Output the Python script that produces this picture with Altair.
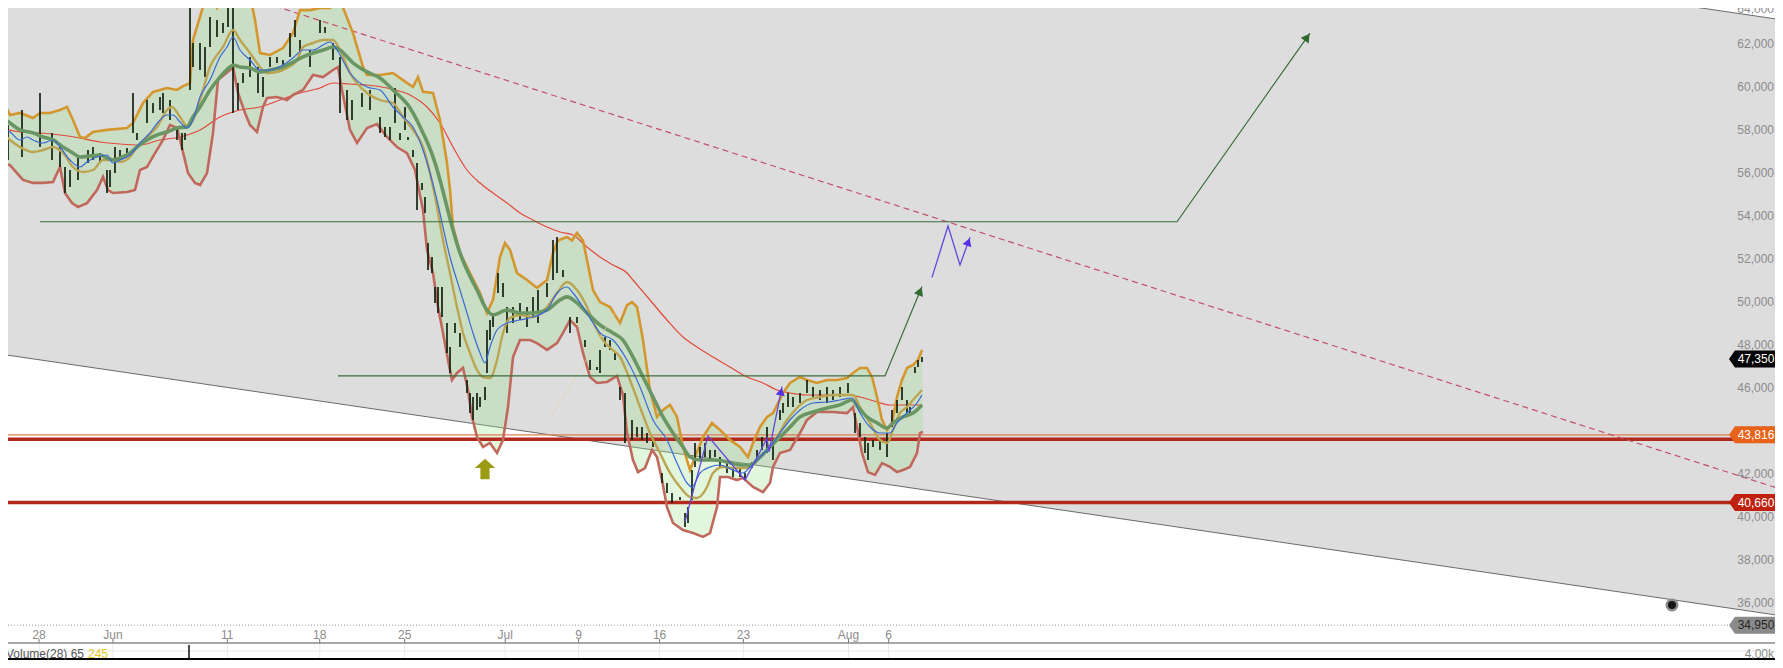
import math
import altair as alt
import pandas as pd

# ---------------- data (t = session index, p = price) ----------------
DATE_T = [3.9, 11.3, 22.73, 31.97, 40.47, 50.52, 57.86, 65.96, 74.34, 84.85, 88.87]
DATE_LABELS = ["28", "Jun", "11", "18", "25", "Jul", "9", "16", "23", "Aug", "6"]
PRICE_TICKS = [36000, 38000, 40000, 42000, 44000, 46000, 48000, 50000, 52000,
               54000, 56000, 58000, 60000, 62000]
TOP_TICK = 64000

UPPER_BAND = [[0,59650],[1,58710],[2,58810],[3.3,58570],[4,58810],[5,58810],[6,58950],[6.7,59090],[7.3,58480],[8,57690],[8.5,57640],[9.3,57920],[10.7,58020],[12.7,58110],[13.3,58340],[14.3,59270],[15.3,59790],[16.7,59970],[17.7,59880],[18.3,60060],[19,60200],[19.3,62210],[20,63280],[20.5,64070],[21,64300],[21.7,63700],[22.5,64300],[23.3,64300],[25,64300],[25.5,63140],[26,61600],[27,61510],[28.3,61830],[29.3,62530],[30,63600],[31,63600],[32,63700],[33,63700],[34,64070],[35.3,62530],[36.3,60950],[36.7,60580],[38,60580],[39.3,60670],[40.3,60340],[41.3,60020],[41.8,60480],[42.3,59790],[43.3,59740],[44,58480],[44.7,56480],[45,55220],[45.3,53500],[46,52290],[47,51350],[48,50420],[48.7,49490],[49.3,50100],[50,52100],[50.5,52750],[51,52430],[51.7,51350],[52.7,51030],[53.7,50660],[54.7,51030],[55.3,52290],[55.8,52870],[56.7,53030],[57.2,52870],[57.7,53220],[58.3,52870],[58.7,51960],[59.3,50560],[60,50000],[61,49770],[62,49030],[62.7,49860],[63.2,50000],[63.7,49770],[64.3,48230],[65,45900],[65.7,44650],[66.3,44970],[67,45210],[67.7,44650],[68.3,43250],[69,42180],[69.5,42780],[70.3,43710],[71.2,44370],[72,44040],[73,43580],[74,43250],[74.8,42780],[75.3,43440],[76,44180],[76.7,44650],[77.3,44830],[78.3,45760],[79,46230],[80,46510],[80.7,46370],[81.7,46230],[82.7,46370],[83.7,46370],[84.7,46460],[85.3,46700],[86,46930],[86.7,46930],[87.2,46510],[87.7,45580],[88.2,44510],[88.7,44040],[89.2,44370],[89.7,45580],[90.2,46370],[90.7,46930],[91.3,47070],[91.8,47300],[92.2,47770]]

LOWER_BAND = [[0,56480],[1,56380],[1.7,56010],[2.3,55690],[3.3,55550],[4.3,55550],[5.3,55590],[6,56290],[6.5,55080],[7.2,54610],[7.8,54430],[8.7,54610],[9.7,55220],[10.3,55830],[10.8,55220],[11.3,55080],[12.7,55130],[13.5,55220],[14,56150],[14.7,56290],[15.5,56940],[16.3,57550],[17,58250],[17.7,58110],[18.2,57180],[18.8,56010],[19.5,55550],[20,55450],[20.7,56010],[21.3,57880],[21.8,60340],[23,60810],[23.3,60950],[23.8,59740],[24.5,58810],[25,58250],[25.7,57920],[26.3,59090],[26.7,59510],[27.7,59550],[28.7,59410],[29.3,59650],[30.3,59880],[31.3,60580],[32.3,60480],[33.3,60810],[33.8,60950],[34.2,59880],[35,58020],[35.7,57410],[36.7,58110],[37.7,58290],[38.7,57690],[39.7,57220],[40.7,56940],[41.5,56150],[42.3,54290],[42.7,52430],[43.3,51350],[43.8,49770],[44.3,48560],[44.8,47300],[45.2,46370],[45.7,46700],[46.3,46930],[46.8,45900],[47.2,44650],[47.7,43710],[48.3,43250],[49,43440],[49.7,42970],[50.3,43580],[50.8,45110],[51.3,47440],[52,48230],[53,48230],[53.7,48090],[54.7,47770],[55.7,48090],[56.3,48560],[57,49160],[57.7,48840],[58.3,47630],[59,46510],[59.7,46230],[60.7,46280],[61.7,46560],[62.3,45670],[62.7,43900],[63.3,42640],[63.8,42080],[64.5,42270],[65.2,43110],[65.7,42780],[66.2,41710],[66.7,40450],[67.3,39710],[68.3,39380],[69.3,39240],[70.3,39060],[71,39240],[71.7,40450],[72,41850],[72.8,41850],[73.7,41710],[74.3,41810],[75.3,41390],[76.3,41150],[77,41570],[77.3,42320],[78,42970],[79,43110],[80,43900],[80.7,44510],[81.7,44880],[83.3,44880],[84.7,44830],[85.3,45110],[85.7,44180],[86.2,42970],[86.8,42080],[87.5,41950],[88.2,42500],[89,42320],[89.7,42080],[90.3,42180],[91,42320],[91.7,42970],[92,43900],[92.3,43950]]

GREEN_MA = [[0,58710],[1,58340],[2,58020],[3.3,57880],[4.3,57690],[5.3,57550],[6.3,57220],[7.3,56940],[8,56760],[9,56800],[10,56850],[10.7,56710],[11.3,56620],[12,56710],[13,56940],[13.7,57220],[14.7,57550],[15.7,57780],[16.7,57920],[17.7,58110],[18.7,58160],[19.3,58620],[20,59090],[21,59880],[22,60480],[23,60950],[23.3,61040],[24,60950],[25,60900],[26,60720],[27,60810],[28.3,60950],[29.3,61180],[30.3,61420],[31.3,61600],[32.3,61740],[33.3,61880],[34,61740],[35.3,61140],[36.7,60720],[38,60440],[39.3,59880],[41,59040],[42.3,57880],[43.3,56760],[44,55690],[44.7,54430],[45.3,53360],[46,52290],[46.7,51490],[47.7,50560],[48.7,49630],[49.3,49400],[50.7,49630],[52,49490],[53.3,49490],[54.7,49630],[56,50100],[56.7,50240],[57.7,49960],[58.7,49490],[60,48930],[61.3,48560],[62.3,48230],[63.3,47440],[64.3,46510],[65.3,45580],[66.3,44650],[67.3,43900],[68.3,43250],[69,42780],[70,42640],[71.3,42640],[72.7,42550],[74,42410],[75,42410],[76,42780],[77,43250],[78,43710],[79,44180],[80,44650],[81.3,44880],[82.7,45070],[84,45210],[85.2,45440],[85.8,45110],[86.7,44650],[87.7,44370],[88.7,44130],[89.3,44370],[90.3,44650],[91.3,44830],[92.2,45210]]

TAN_MA = [[0,58015],[1,57549],[2,57223],[3.3,56990],[4.3,57083],[5.3,57223],[6.3,56943],[7.3,56291],[8.3,56058],[9.3,56151],[10.3,56617],[11.3,56617],[12,56524],[13,56757],[13.7,57223],[14.7,57688],[15.7,58155],[16.7,58946],[17.2,59086],[18,58620],[18.8,58155],[19.3,58480],[20,59412],[21,60949],[22.3,61881],[23.3,62673],[24,62207],[25,61601],[26,60949],[26.7,60670],[27.7,60716],[28.7,60903],[29.7,61275],[30.3,61881],[31.3,62067],[32.3,62207],[33.3,62207],[34,61741],[35,60670],[36.7,59738],[38,59412],[39.3,59272],[40.3,58620],[41.3,58015],[42.3,57223],[43,56012],[43.7,54428],[44.3,52891],[45,51354],[45.7,49770],[46.3,48559],[47,47627],[47.7,46835],[48.3,46509],[49,46463],[49.7,47301],[50.3,48559],[51,49257],[52,49397],[53.3,49304],[54.7,49770],[55.7,50422],[56.7,50934],[57.7,50562],[58.7,49770],[59.5,48900],[60.5,48100],[61.2,47800],[62,47441],[63,46370],[64,45112],[65,43901],[66,42969],[67,42038],[68,41386],[69,40920],[69.7,40873],[70.7,41386],[71.3,42038],[72.3,42317],[73.3,42270],[74.7,42270],[75.7,42643],[76.7,43109],[77.7,43714],[78.7,44507],[79.7,45066],[80.7,45438],[82,45578],[83.3,45671],[84.7,45671],[85.3,45671],[86,45112],[87,44367],[88,43575],[88.7,43435],[89.3,44041],[90,44833],[90.7,45112],[91.3,45438],[92.2,45904]]

BLUE_MA = [[0,58155],[1,57921],[2,57549],[2.7,57688],[3.3,57549],[4.3,57409],[5.3,57549],[6,57223],[7,56617],[8,56291],[8.7,56524],[9.7,56757],[10.7,56850],[11.3,56478],[12,56617],[13,56850],[14,57409],[15,57875],[16,58480],[16.7,58713],[17.3,58713],[18,58387],[18.7,58108],[19.3,58480],[20,59552],[21,60344],[22,61415],[22.7,61881],[23.3,62347],[24,61741],[25,61275],[26,60809],[27,60809],[28.3,61042],[29.3,61368],[30.3,61741],[31.3,61741],[32.3,61974],[33,62114],[33.7,61741],[35,60670],[36.7,60017],[38,59878],[39.3,59086],[40.3,58620],[41.3,58155],[42.3,57083],[43,56012],[43.7,54754],[44.3,53497],[45,52099],[46,50562],[46.7,49490],[47.3,48559],[48,47627],[48.5,47161],[49,47907],[49.7,48698],[50.7,49025],[52,49164],[53.3,49304],[54.7,49630],[55.7,50422],[56.7,50701],[57.3,50422],[58.3,49770],[59.3,49025],[60,48559],[61.3,48233],[62.7,47301],[64,46044],[65.3,44507],[66.7,43575],[67.7,42503],[68.7,41572],[69.2,41386],[70,42038],[71,42317],[72,42410],[73.3,42177],[74.3,42038],[75,42317],[76,42783],[77,43249],[78,43901],[79,44507],[80,44972],[81.3,45298],[82.7,45345],[84,45438],[85.2,45531],[86,44833],[87,44180],[88,43901],[89,43901],[89.7,44367],[90.7,44833],[91.7,45298],[92.2,45671]]

RED_MA = [[0,58108],[2,57921],[4,57875],[6,57782],[8,57642],[10,57456],[12,57362],[14,57316],[16,57549],[18,57688],[20,58015],[22,58620],[24,58946],[26,59086],[28,59412],[30,59738],[32,59971],[33.3,60204],[35,60157],[36.7,60111],[38.7,59971],[41,59645],[42.7,59086],[44,58341],[45.3,57223],[46.7,56151],[48,55546],[49.3,55080],[50.7,54614],[52,54148],[53.3,53822],[54.7,53496],[56,53263],[57.3,53124],[58.7,52565],[60,52099],[61.3,51726],[62.7,51354],[63.3,51028],[65,50096],[66.7,49164],[68.3,48373],[69.7,47907],[71.3,47441],[73,46975],[74.7,46509],[76.3,46230],[77.7,45904],[79,45764],[80.7,45671],[82.7,45671],[84.7,45671],[86,45578],[87.7,45345],[89,45205],[90.7,45205],[92.2,45205]]

# candles: [t, high, low]
CANDLES = [[0.2,59270,57080],[0.5,58020,56850],[0.8,58250,56620],[2.2,58950,56760],[4.0,59740,57220],[5.2,57880,56620],[6.0,57410,56290],[6.5,56290,55080],[7.0,56150,55360],[7.8,56760,55690],[8.8,57080,56480],[9.3,57220,56620],[10.0,56940,56480],[10.7,56150,55080],[11.0,56150,55360],[11.5,57220,56010],[12.0,57080,56760],[12.7,57180,56850],[13.3,59740,57880],[13.7,57880,57550],[14.7,59410,58340],[15.3,59270,58810],[16.0,59550,58950],[16.3,59740,58810],[17.0,59410,58480],[17.7,58160,57550],[18.2,57880,57080],[18.5,57880,57550],[19.0,64070,59880],[19.3,62070,60950],[20.0,62070,60810],[20.5,61880,60480],[21.0,63280,61880],[21.7,63140,62350],[22.3,63000,62530],[22.8,64070,62810],[23.3,64070,58810],[23.8,60200,58950],[24.3,60670,60200],[25.0,61420,60480],[25.8,60950,59740],[26.3,60480,59550],[27.0,61420,60950],[27.7,61420,61140],[28.3,61280,60950],[29.0,62530,61420],[29.5,63140,62350],[30.0,62210,61600],[31.0,61740,60950],[32.0,63140,62530],[32.5,62810,62530],[33.3,62070,61280],[34.0,61420,58810],[34.7,59880,58480],[35.2,59410,58480],[36.2,59740,59090],[37.0,59880,58950],[38.0,58620,57880],[38.5,58160,57690],[39.0,58160,57550],[39.5,59970,58340],[40.0,57880,57550],[40.5,59090,58020],[40.8,57690,57550],[41.3,57080,56760],[41.7,56480,54290],[42.2,55550,55220],[42.5,54890,54150],[42.8,52750,51490],[43.2,52100,51350],[43.5,50700,49960],[43.8,50700,49490],[44.2,50700,49300],[44.7,49030,47630],[45.0,47910,46700],[45.5,49030,48560],[46.0,48560,47910],[46.7,46370,45760],[47.0,45760,44830],[47.3,45580,44510],[47.7,45760,44970],[48.0,45580,45110],[48.5,46040,45440],[48.7,48700,46700],[49.0,49160,48230],[49.3,49490,48840],[49.8,51350,50420],[50.3,50890,50240],[50.7,49770,48560],[51.3,49770,49030],[52.0,49960,49160],[52.7,49770,48840],[53.3,50240,49300],[53.8,50560,49030],[54.7,50890,50240],[55.3,52890,51030],[55.7,53030,51350],[56.3,51490,51170],[57.0,49300,48560],[57.7,49300,49030],[58.5,48230,47910],[59.0,47300,46840],[59.7,46980,46840],[60.0,47770,46700],[60.5,48370,47910],[61.0,48230,47770],[61.5,47630,47300],[62.0,46040,45440],[62.5,45760,43440],[63.2,44510,43580],[63.7,44180,43710],[64.2,44180,43580],[64.7,43900,43440],[65.3,43710,43250],[66.2,42040,41570],[66.7,41570,41110],[67.2,41110,40640],[68.0,40920,40780],[68.5,40170,39520],[68.8,40450,39710],[69.2,42180,40780],[69.5,43440,42320],[70.0,43250,42640],[70.5,43440,42780],[71.0,43110,42640],[71.5,43110,42780],[72.0,42780,42320],[72.7,42640,42040],[73.3,42320,41850],[74.0,42320,41850],[74.5,42040,41710],[75.2,42550,42270],[75.7,43110,42640],[76.2,43710,43110],[76.7,44180,42970],[77.3,43580,42640],[78.0,44970,44510],[78.3,45300,44830],[78.8,45760,45110],[79.3,45580,45110],[80.0,45760,45300],[80.7,46370,45760],[81.3,46040,45580],[82.0,45900,45440],[82.7,46040,45300],[83.3,45900,45440],[84.0,46040,45580],[84.8,46230,45760],[85.5,44830,43900],[86.0,44370,43710],[86.5,43710,42970],[86.8,43440,42640],[87.3,43580,43250],[88.0,43580,43110],[88.7,43900,42780],[89.2,44970,44180],[89.7,45440,44830],[90.2,46040,45440],[90.7,45440,44830],[91.0,45110,44830],[91.5,46980,46700],[91.8,47300,46980],[92.2,47440,47210]]

# descending channel (grey zone): t, lower edge, upper edge
CHANNEL_T = [0.0, 178.3]
CHANNEL_LOWER = [47580, 35377]
CHANNEL_UPPER = [75341, 63138]

DASH_LINE = [[25.6, 64070], [178.3, 41250]]
TARGET_HIGH = [[4.0, 53740], [117.7, 53740], [131.0, 62530]]
TARGET_LOW = [[33.8, 46560], [88.5, 46560], [92.2, 50720]]
WAVE_LOW = [[68.5, 39770], [70.8, 43760], [74.5, 41710], [76.7, 43650], [76.9, 43020], [78.2, 46060]]
WAVE_HIGH = [[93.2, 51150], [94.8, 53540], [96.0, 51730], [97.0, 53020]]
FAINT_LINE = [[55.0, 44600], [61.7, 49630]]
UP_MARKER = [48.5, 42220]
DOT = [167.2, 35890]
LEVELS_THIN = [43816]
LEVELS_THICK = [43610, 40660]
DOTTED_LEVEL = 34950
TAGS = [["47,350", 47350, "#050505", "#ffffff"],
        ["43,816", 43816, "#e8621a", "#ffffff"],
        ["40,660", 40660, "#c0200e", "#ffffff"],
        ["34,950", 34950, "#8a8a8a", "#262626"]]
VOLUME_TEXT = "Volume(28) 65"
VOLUME_VALUE = "245"
VOLUME_AXIS = "4,00k"
VOLUME_BAR_T = 18.9

# ---------------- chart ----------------
W, H = 1767, 652
T_DOMAIN = [0.8, 177.5]
P_DOMAIN = [33327.2, 63697.4]
PX_T = W / (T_DOMAIN[1] - T_DOMAIN[0])
PX_P = H / (P_DOMAIN[1] - P_DOMAIN[0])
FONT = "Liberation Sans"

xs = alt.Scale(domain=T_DOMAIN, nice=False, zero=False)
ys = alt.Scale(domain=P_DOMAIN, nice=False, zero=False)
X = alt.X("t:Q", scale=xs, axis=None)
Y = alt.Y("p:Q", scale=ys, axis=None)


def df_pairs(pairs):
    return pd.DataFrame(pairs, columns=["t", "p"])


def line(pairs, color, width, interp="monotone", **kw):
    return alt.Chart(df_pairs(pairs)).mark_line(
        color=color, strokeWidth=width, clip=True, interpolate=interp, **kw
    ).encode(x=X, y=Y)


def arrow_head(path, back=5.0):
    (t0, p0), (t1, p1) = path[-2], path[-1]
    dx = (t1 - t0) * PX_T
    dy = (p1 - p0) * PX_P
    L = math.hypot(dx, dy)
    ang = math.degrees(math.atan2(dx, dy)) % 360
    return {"t": t1 - dx / L * back / PX_T, "p": p1 - dy / L * back / PX_P, "a": ang}


def heads(paths, color, size):
    d = pd.DataFrame([arrow_head(p) for p in paths])
    return alt.Chart(d).mark_point(
        shape="triangle-up", filled=True, color=color, size=size, opacity=1, clip=True
    ).encode(x=X, y=Y, angle=alt.Angle("a:Q", scale=None))


one = pd.DataFrame({"k": [0]})
layers = []

# grey channel
chan = pd.DataFrame({"t": CHANNEL_T, "lo": CHANNEL_LOWER, "hi": CHANNEL_UPPER})
layers.append(alt.Chart(chan).mark_area(color="#dddddd", clip=True).encode(
    x=X, y=alt.Y("lo:Q", scale=ys, axis=None), y2=alt.Y2("hi:Q")))
layers.append(alt.Chart(chan).mark_line(color="#6a6a6a", strokeWidth=1, clip=True).encode(
    x=X, y=alt.Y("lo:Q", scale=ys, axis=None)))
layers.append(alt.Chart(chan).mark_line(color="#6a6a6a", strokeWidth=1, clip=True).encode(
    x=X, y=alt.Y("hi:Q", scale=ys, axis=None)))

# band fill polygon
poly = [{"t": t, "p": p, "o": i} for i, (t, p) in enumerate(UPPER_BAND)]
n = len(poly)
poly += [{"t": t, "p": p, "o": n + i} for i, (t, p) in enumerate(reversed(LOWER_BAND))]
layers.append(alt.Chart(pd.DataFrame(poly)).mark_line(
    filled=True, color="#9be08f", opacity=0.3, clip=True, interpolate="linear"
).encode(x=X, y=Y, order=alt.Order("o:Q")))

# horizontal levels
lev = pd.DataFrame({"p": LEVELS_THICK})
layers.append(alt.Chart(lev).mark_rule(color="#b2281a", strokeWidth=3.5, clip=True).encode(
    y=Y, x=alt.value(0), x2=alt.value(W)))
lev2 = pd.DataFrame({"p": LEVELS_THIN})
layers.append(alt.Chart(lev2).mark_rule(color="#e07a52", strokeWidth=1.2, clip=True).encode(
    y=Y, x=alt.value(0), x2=alt.value(W)))
dl = pd.DataFrame({"p": [DOTTED_LEVEL]})
layers.append(alt.Chart(dl).mark_rule(color="#9a9a9a", strokeWidth=1, strokeDash=[1, 2], clip=True).encode(
    y=Y, x=alt.value(0), x2=alt.value(1721)))

# dashed trend line
layers.append(line(DASH_LINE, "#c4506a", 1.2, interp="linear", strokeDash=[6, 4]))

# moving averages & bands
layers.append(line(RED_MA, "#e2493a", 1.2))
layers.append(line(UPPER_BAND, "#d4972e", 2.6, interp="linear"))
layers.append(line(LOWER_BAND, "#c0685c", 2.6, interp="linear"))

# candles
cdf = pd.DataFrame(CANDLES, columns=["t", "hi", "lo"])
layers.append(alt.Chart(cdf).mark_rule(color="#122212", strokeWidth=1.7, clip=True).encode(
    x=X, y=alt.Y("hi:Q", scale=ys, axis=None), y2=alt.Y2("lo:Q")))

layers.append(line(TAN_MA, "#bba552", 2.4))
layers.append(line(GREEN_MA, "#6a9663", 3.6))
layers.append(line(BLUE_MA, "#3a68d6", 1.2))

# drawings
layers.append(line(FAINT_LINE, "#e6cfae", 1, interp="linear", opacity=0.7))
layers.append(line(TARGET_HIGH, "#3a6c3a", 1.2, interp="linear"))
layers.append(line(TARGET_LOW, "#3a6c3a", 1.2, interp="linear"))
layers.append(heads([TARGET_HIGH, TARGET_LOW], "#2f6a2f", 95))
layers.append(line(WAVE_LOW, "#6446e0", 1.3, interp="linear"))
layers.append(line(WAVE_HIGH, "#6446e0", 1.3, interp="linear"))
layers.append(heads([WAVE_LOW, WAVE_HIGH], "#5532e6", 85))

up = pd.DataFrame({"t": [UP_MARKER[0]], "p": [UP_MARKER[1]]})
layers.append(alt.Chart(up).mark_point(
    shape="M0,-1L1,-0.1L0.45,-0.1L0.45,1L-0.45,1L-0.45,-0.1L-1,-0.1Z",
    filled=True, color="#9c9c14", size=420, opacity=1).encode(x=X, y=Y))

dot = pd.DataFrame({"t": [DOT[0]], "p": [DOT[1]]})
layers.append(alt.Chart(dot).mark_point(
    shape="circle", filled=True, fill="#151515", stroke="#8c8c8c", strokeWidth=2.5,
    size=110, opacity=1).encode(x=X, y=Y))

# volume panel
layers.append(alt.Chart(one).mark_rect(color="#ffffff").encode(
    x=alt.value(0), x2=alt.value(W), y=alt.value(635), y2=alt.value(H)))
dates = pd.DataFrame({"t": DATE_T, "lab": DATE_LABELS})
layers.append(alt.Chart(dates).mark_rule(color="#ebebeb", strokeWidth=1).encode(
    x=X, y=alt.value(636), y2=alt.value(H)))
layers.append(alt.Chart(one).mark_rule(color="#e4e4e4", strokeWidth=1).encode(
    x=alt.value(0), x2=alt.value(W), y=alt.value(643)))
layers.append(alt.Chart(one).mark_rule(color="#8a8a8a", strokeWidth=1.5).encode(
    x=alt.value(0), x2=alt.value(W), y=alt.value(635)))
vb = pd.DataFrame({"t": [VOLUME_BAR_T]})
layers.append(alt.Chart(vb).mark_rule(color="#111111", strokeWidth=1.5).encode(
    x=X, y=alt.value(637), y2=alt.value(H)))
layers.append(alt.Chart(one).mark_rect(color="#000000").encode(
    x=alt.value(0), x2=alt.value(W), y=alt.value(650), y2=alt.value(H)))
layers.append(alt.Chart(pd.DataFrame({"s": [VOLUME_TEXT]})).mark_text(
    align="left", baseline="middle", font=FONT, fontSize=12, color="#555555", clip=True
).encode(x=alt.value(-2), y=alt.value(646), text="s:N"))
layers.append(alt.Chart(pd.DataFrame({"s": [VOLUME_VALUE]})).mark_text(
    align="left", baseline="middle", font=FONT, fontSize=12, color="#e8c61c"
).encode(x=alt.value(80), y=alt.value(646), text="s:N"))
layers.append(alt.Chart(pd.DataFrame({"s": [VOLUME_AXIS]})).mark_text(
    align="right", baseline="middle", font=FONT, fontSize=12, color="#8c8c8c"
).encode(x=alt.value(W - 1), y=alt.value(646), text="s:N"))

# date axis
layers.append(alt.Chart(dates).mark_rule(color="#777777", strokeWidth=1).encode(
    x=X, y=alt.value(631), y2=alt.value(635)))
layers.append(alt.Chart(dates).mark_text(
    baseline="middle", font=FONT, fontSize=12, color="#8c8c8c"
).encode(x=X, y=alt.value(627), text="lab:N"))

# price axis (right edge, labels inside)
pt = pd.DataFrame({"p": PRICE_TICKS})
pt["lab"] = [f"{v:,}" for v in PRICE_TICKS]
layers.append(alt.Chart(pt).mark_text(
    align="right", baseline="middle", font=FONT, fontSize=12, color="#8c8c8c", clip=True
).encode(x=alt.value(W - 1), y=Y, text="lab:N"))
top = pd.DataFrame({"p": [P_DOMAIN[1]], "lab": [f"{TOP_TICK:,}"]})
layers.append(alt.Chart(top).mark_text(
    align="right", baseline="middle", font=FONT, fontSize=12, color="#8c8c8c", clip=True, dy=1
).encode(x=alt.value(W - 1), y=Y, text="lab:N"))

# price tags
tags = pd.DataFrame(TAGS, columns=["lab", "p", "bg", "fg"])
layers.append(alt.Chart(tags).mark_point(
    shape="M-1,0L-0.78,-0.315L1,-0.315L1,0.315L-0.78,0.315Z",
    filled=True, size=2916, opacity=1, clip=True
).encode(x=alt.value(1748), y=Y, fill=alt.Fill("bg:N", scale=None)))
layers.append(alt.Chart(tags).mark_text(
    align="center", baseline="middle", font=FONT, fontSize=12
).encode(x=alt.value(1748), y=Y, text="lab:N", color=alt.Color("fg:N", scale=None)))

chart = alt.layer(*layers).properties(
    width=W, height=H, padding=0,
    autosize=alt.AutoSizeParams(type="none"),
    background="#ffffff",
).configure_view(stroke="transparent")

chart.save("out.html", embed_options={"renderer": "svg", "actions": False})
